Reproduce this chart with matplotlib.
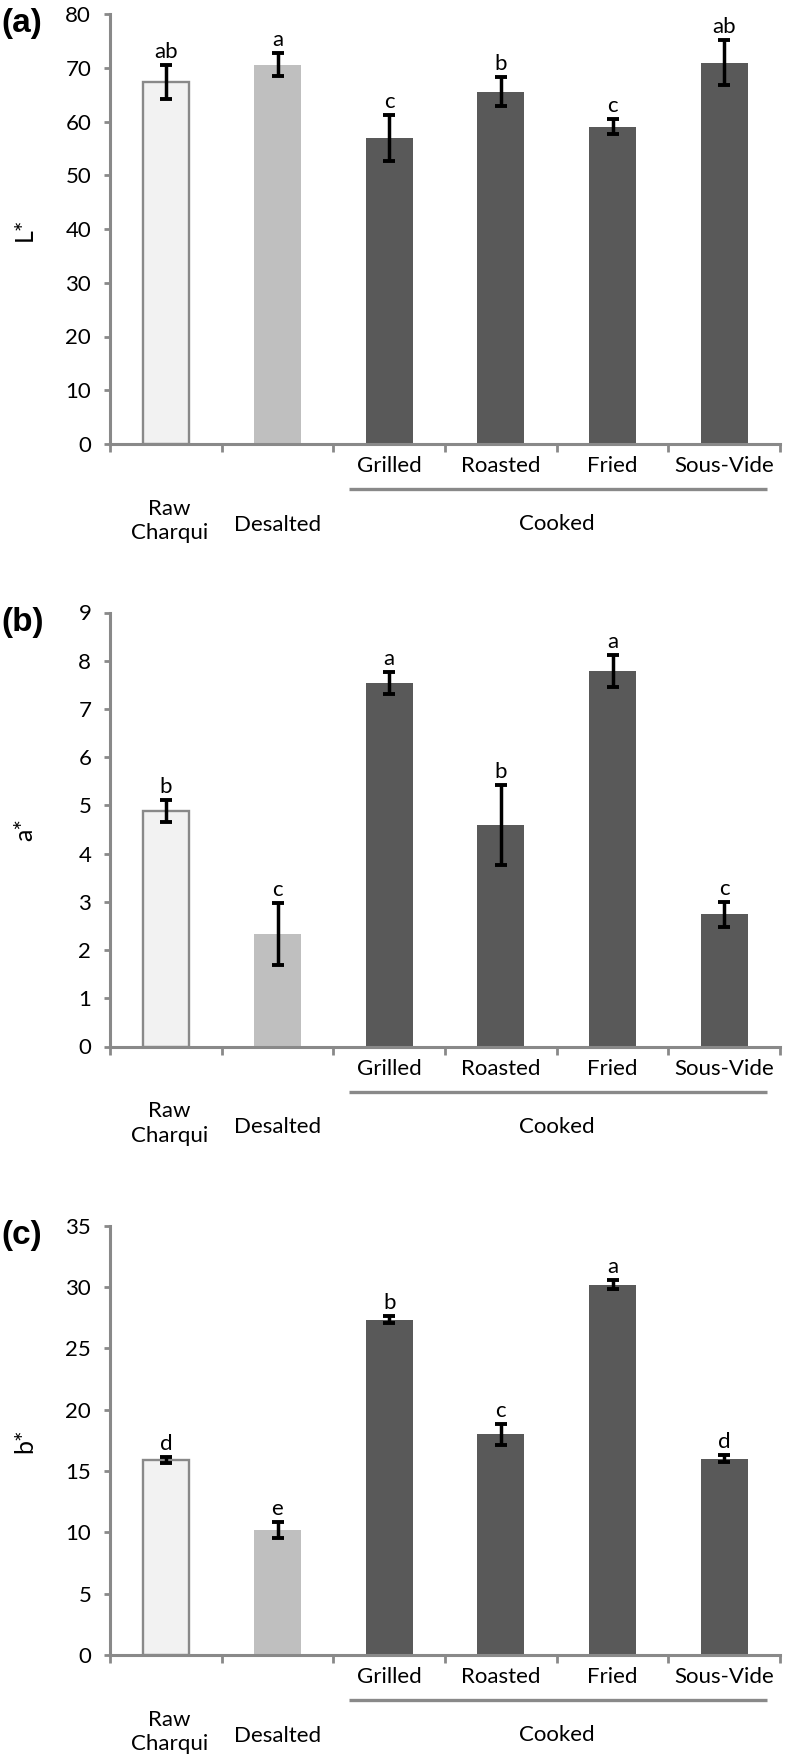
import matplotlib
matplotlib.use("Agg")
import matplotlib.pyplot as plt
import numpy as np

plt.rcParams['font.family'] = ['Lato', 'DejaVu Sans']

# datos
categories = ["Raw\nCharqui", "Desalted", "Grilled", "Roasted", "Fried", "Sous-Vide"]
cooked_label = "Cooked"

L_values = [67.3, 70.6, 57.0, 65.5, 59.0, 70.9]
L_errors = [3.2, 2.2, 4.3, 2.7, 1.4, 4.2]
L_letters = ["ab", "a", "c", "b", "c", "ab"]

a_values = [4.88, 2.34, 7.53, 4.60, 7.78, 2.74]
a_errors = [0.23, 0.64, 0.23, 0.83, 0.33, 0.26]
a_letters = ["b", "c", "a", "b", "a", "c"]

b_values = [15.9, 10.2, 27.35, 18.0, 30.2, 16.0]
b_errors = [0.28, 0.66, 0.28, 0.85, 0.35, 0.27]
b_letters = ["d", "e", "b", "c", "a", "d"]

panels = [
    ("(a)", "L*", L_values, L_errors, L_letters, 80, 10, (14, 444)),
    ("(b)", "a*", a_values, a_errors, a_letters, 9, 1, (612.5, 1046.5)),
    ("(c)", "b*", b_values, b_errors, b_letters, 35, 5, (1225.7, 1655)),
]

W, H = 786, 1761
fig = plt.figure(figsize=(W / 100, H / 100), dpi=100, facecolor='white')

gray = "#898989"
bar_colors = ["#f2f2f2", "#bfbfbf", "#595959", "#595959", "#595959", "#595959"]
fs = 16

for tag, ylab, vals, errs, letters, ymax, step, (ptop, pbot) in panels:
    ax = fig.add_axes([110 / W, 1 - pbot / H, 670 / W, (pbot - ptop) / H])
    x = np.arange(len(vals))

    # barras
    for i in range(len(vals)):
        if i == 0:
            ax.bar(x[i], vals[i], width=0.41, color=bar_colors[i],
                   edgecolor=gray, linewidth=1.7, zorder=2)
        else:
            ax.bar(x[i], vals[i], width=0.42, color=bar_colors[i],
                   linewidth=0, zorder=2)

    ax.errorbar(x, vals, yerr=errs, fmt='none', ecolor='black',
                elinewidth=2.5, capsize=4, capthick=2.8, zorder=3)

    # letras de significancia
    for i in range(len(vals)):
        ax.annotate(letters[i], xy=(x[i], vals[i] + errs[i]),
                    xytext=(0, 5), textcoords='offset points',
                    ha='center', va='baseline', fontsize=fs)

    ax.set_xlim(-0.5, len(vals) - 0.5)
    ax.set_ylim(0, ymax)
    ax.set_yticks(np.arange(0, ymax + step / 2, step))
    ax.set_xticks([])
    ax.set_xticks(np.arange(-0.5, len(vals)), minor=True)
    ax.tick_params(axis='x', which='minor', length=5.5, width=2.0,
                   color=gray, direction='out')
    ax.tick_params(axis='y', length=4.5, width=2.0, color=gray,
                   labelsize=fs, pad=9)

    for s in ['top', 'right']:
        ax.spines[s].set_visible(False)
    for s in ['left', 'bottom']:
        ax.spines[s].set_color(gray)
        ax.spines[s].set_linewidth(2.2)

    ax.set_ylabel(ylab, fontsize=18)
    ax.yaxis.set_label_coords(-(110 - 36) / 670, 0.5)

    trans = ax.get_xaxis_transform()
    h_px = pbot - ptop

    # etiquetas de categorias
    for i in range(2, len(vals)):
        ax.annotate(categories[i], xy=(x[i], 0), xycoords=trans,
                    xytext=(0, -20.5), textcoords='offset points',
                    ha='center', va='baseline', fontsize=fs)
    ax.annotate(categories[0], xy=(x[0] + 0.03, 0), xycoords=trans,
                xytext=(0, -55.5), textcoords='offset points',
                ha='center', va='center', fontsize=fs, linespacing=1.3)
    ax.annotate(categories[1], xy=(x[1], 0), xycoords=trans,
                xytext=(0, -62.5), textcoords='offset points',
                ha='center', va='baseline', fontsize=fs)
    ax.annotate(cooked_label, xy=(3.5, 0), xycoords=trans,
                xytext=(0, -62), textcoords='offset points',
                ha='center', va='baseline', fontsize=fs)
    ax.plot([1.64, 5.38], [-45 / h_px, -45 / h_px], transform=trans,
            color=gray, linewidth=2.4, clip_on=False, solid_capstyle='butt')

    fig.text(1 / W, 1 - (ptop - 6) / H, tag, ha='left', va='top',
             fontsize=24, fontweight='bold', family=['Liberation Sans', 'DejaVu Sans'])

fig.savefig("out.png", dpi=100, facecolor='white')
